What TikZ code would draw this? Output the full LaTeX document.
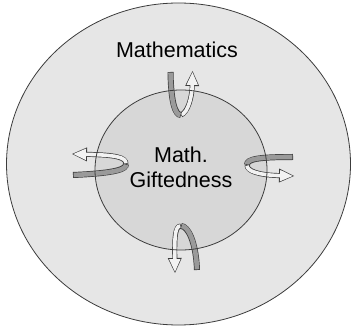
\documentclass[tikz,border=0pt]{standalone}
\usepackage{fontspec}
\setmainfont{Liberation Sans}
\usetikzlibrary{arrows.meta}
\definecolor{mgOuter}{HTML}{E6E6E6}
\definecolor{mgInner}{HTML}{D7D7D7}
\definecolor{mgLine}{HTML}{3C3C3C}
\definecolor{mgBand}{HTML}{9A9A9A}
\definecolor{mgLight}{HTML}{F2F2F2}

\begin{document}
\begin{tikzpicture}[x=1pt,y=1pt,
  txt/.style={font=\fontsize{21.5}{25}\selectfont,align=center,inner sep=0pt},
  band/.style={preaction={draw=mgLine,line width=6pt,shorten <=0pt,shorten >=0pt},
    draw=mgBand,line width=4.6pt,shorten <=0.7pt,shorten >=0.7pt},
  strand/.style={preaction={draw=mgLine,line width=5pt,shorten <=0pt,shorten >=0pt,
      -{Triangle[length=15pt,width=14pt,line width=0pt]}},
    draw=mgLight,line width=3.6pt,shorten <=0.7pt,shorten >=1.3pt,
    -{Triangle[length=12.6pt,width=11.4pt,line width=0pt]}}
]
\useasboundingbox (0,0) rectangle (351,327);
\fill[mgOuter,draw=mgLine,line width=0.8pt] (178.5,163) ellipse [x radius=172pt,y radius=161pt];
\fill[mgInner] (181,157) ellipse [x radius=86pt,y radius=80pt];

\node[txt,anchor=base] (math) at (177,269) {Mathematics};
\node[txt] (gift) at (181,160) {Math.\\Giftedness};

% top
\draw[strand] (181,212) .. controls (188,215) and (192,230) .. (192.5,256);
\draw[band] (170.5,255) .. controls (171,225) and (175,212) .. (181,212);
% bottom
\draw[strand] (181,101) .. controls (175,101) and (174.5,90) .. (175,54);
\draw[band] (181,101) .. controls (188,101) and (196,85) .. (197,57);
% left
\draw[strand] (126,163) .. controls (126,170) and (115,172) .. (72,173);
\draw[band] (126,163) .. controls (126,158) and (118,154) .. (73,152);
% right
\draw[band] (247,162) .. controls (247,168) and (258,170) .. (293,170);
\draw[strand] (247,162) .. controls (247,156) and (258,152) .. (294,151);

\draw[mgLine,line width=0.8pt] (181,157) ellipse [x radius=86pt,y radius=80pt];
\end{tikzpicture}
\end{document}
